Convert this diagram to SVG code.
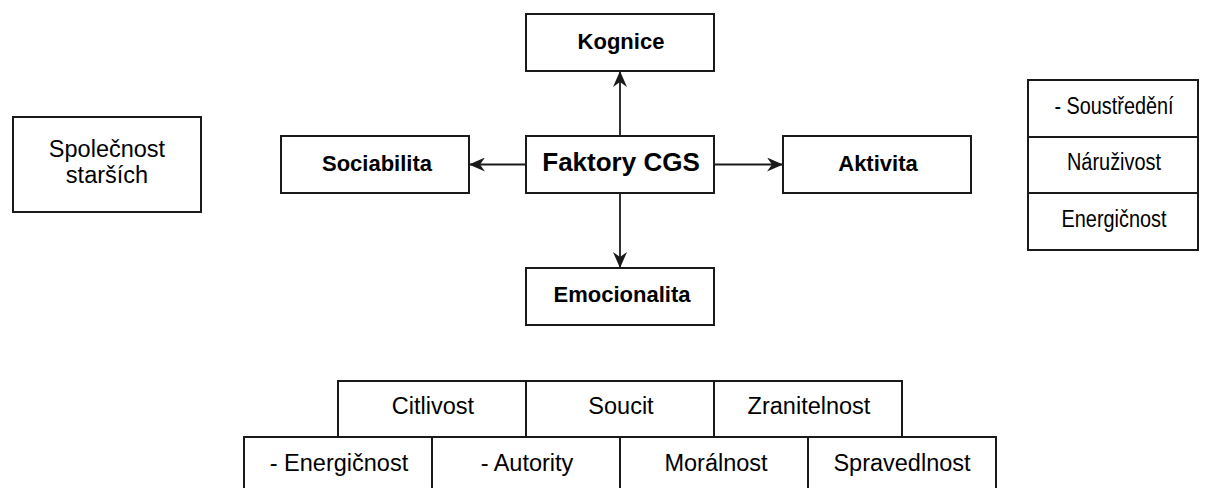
<svg xmlns="http://www.w3.org/2000/svg" width="1210" height="488" viewBox="0 0 1210 488">
  <style>
    .box { fill: #ffffff; stroke: #1a1a1a; stroke-width: 2; }
    .b { font-family: "Liberation Sans", Arial, sans-serif; font-weight: bold; font-size: 22px; fill: #000000; text-anchor: middle; }
    .big { font-family: "Liberation Sans", Arial, sans-serif; font-weight: bold; font-size: 26px; fill: #000000; text-anchor: middle; }
    .r { font-family: "Liberation Sans", Arial, sans-serif; font-size: 23.5px; fill: #000000; text-anchor: middle; }
    .rs { font-family: "Liberation Sans", Arial, sans-serif; font-size: 23px; fill: #000000; text-anchor: middle; }
    .edge { fill: none; stroke: #1a1a1a; stroke-width: 1.8; }
  </style>
  <defs>
    <marker id="arrow" markerUnits="userSpaceOnUse" viewBox="0 0 16 14" refX="15" refY="7" markerWidth="16" markerHeight="14" orient="auto">
      <path d="M0,0 L16,7 L0,14 L5,7 Z" fill="#1a1a1a"/>
    </marker>
  </defs>
  <rect width="1210" height="488" fill="#ffffff"/>

  <g id="connectors">
    <path class="edge" d="M620,136 L620,72" marker-end="url(#arrow)"/>
    <path class="edge" d="M620,193 L620,267" marker-end="url(#arrow)"/>
    <path class="edge" d="M526,164.5 L470,164.5" marker-end="url(#arrow)"/>
    <path class="edge" d="M714,164.5 L782,164.5" marker-end="url(#arrow)"/>
  </g>

  <g id="kognice">
    <rect class="box" x="526" y="14" width="188" height="57"/>
    <text class="b" x="621" y="48.5">Kognice</text>
  </g>
  <g id="faktory">
    <rect class="box" x="526" y="136" width="188" height="57"/>
    <text class="big" x="621" y="171">Faktory CGS</text>
  </g>
  <g id="sociabilita">
    <rect class="box" x="281" y="136" width="188" height="57"/>
    <text class="b" x="377" y="170.5">Sociabilita</text>
  </g>
  <g id="aktivita">
    <rect class="box" x="783" y="136" width="188" height="57"/>
    <text class="b" x="878" y="170.5">Aktivita</text>
  </g>
  <g id="emocionalita">
    <rect class="box" x="526" y="268" width="188" height="57"/>
    <text class="b" x="622" y="302">Emocionalita</text>
  </g>

  <g id="spolecnost">
    <rect class="box" x="13" y="117" width="188" height="95"/>
    <text class="r" x="107" y="157">Společnost</text>
    <text class="r" x="107" y="183">starších</text>
  </g>

  <g id="soustredeni">
    <rect class="box" x="1028" y="80" width="170" height="57"/>
    <text class="rs" x="1114" y="114" textLength="119" lengthAdjust="spacingAndGlyphs">- Soustředění</text>
  </g>
  <g id="naruzivost">
    <rect class="box" x="1028" y="137" width="170" height="56"/>
    <text class="rs" x="1114" y="170" textLength="94" lengthAdjust="spacingAndGlyphs">Náruživost</text>
  </g>
  <g id="energicnost-r">
    <rect class="box" x="1028" y="193" width="170" height="57"/>
    <text class="rs" x="1114" y="226.5" textLength="105" lengthAdjust="spacingAndGlyphs">Energičnost</text>
  </g>

  <g id="citlivost">
    <rect class="box" x="338" y="381" width="188" height="56"/>
    <text class="r" x="433" y="414">Citlivost</text>
  </g>
  <g id="soucit">
    <rect class="box" x="526" y="381" width="188" height="56"/>
    <text class="r" x="621" y="414">Soucit</text>
  </g>
  <g id="zranitelnost">
    <rect class="box" x="714" y="381" width="188" height="56"/>
    <text class="r" x="809" y="414">Zranitelnost</text>
  </g>

  <g id="energicnost-b">
    <rect class="box" x="244" y="437" width="188" height="57"/>
    <text class="r" x="339" y="471">- Energičnost</text>
  </g>
  <g id="autority">
    <rect class="box" x="432" y="437" width="188" height="57"/>
    <text class="r" x="527" y="471">- Autority</text>
  </g>
  <g id="moralnost">
    <rect class="box" x="620" y="437" width="188" height="57"/>
    <text class="r" x="716" y="471">Morálnost</text>
  </g>
  <g id="spravedlnost">
    <rect class="box" x="808" y="437" width="188" height="57"/>
    <text class="r" x="902" y="471">Spravedlnost</text>
  </g>
</svg>
